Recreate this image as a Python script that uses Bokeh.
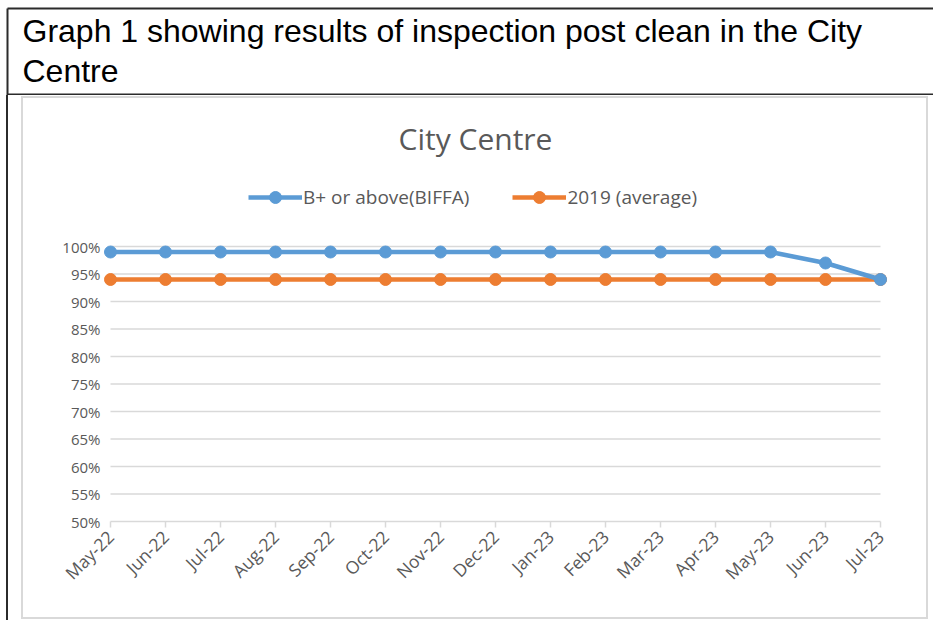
from bokeh.plotting import figure
from bokeh.layouts import column
from bokeh.models import (Range1d, FixedTicker, Legend, LegendItem, Label,
                          ColumnDataSource, InlineStyleSheet)
from bokeh.core.properties import value
from bokeh.embed import file_html
from bokeh.resources import INLINE
from math import pi

# ---- data ----
months = ["May-22", "Jun-22", "Jul-22", "Aug-22", "Sep-22", "Oct-22", "Nov-22",
          "Dec-22", "Jan-23", "Feb-23", "Mar-23", "Apr-23", "May-23", "Jun-23", "Jul-23"]
biffa = [0.99, 0.99, 0.99, 0.99, 0.99, 0.99, 0.99, 0.99, 0.99, 0.99, 0.99, 0.99, 0.99, 0.97, 0.94]
avg2019 = [0.94, 0.94, 0.94, 0.94, 0.94, 0.94, 0.94, 0.94, 0.94, 0.94, 0.94, 0.94, 0.94, 0.94, 0.94]
y_ticks = [0.50, 0.55, 0.60, 0.65, 0.70, 0.75, 0.80, 0.85, 0.90, 0.95, 1.00]
y_tick_labels = ["50%", "55%", "60%", "65%", "70%", "75%", "80%", "85%", "90%", "95%", "100%"]
series_names = ["B+ or above(BIFFA)", "2019 (average)"]
chart_title = "City Centre"
header_lines = ["Graph 1 showing results of inspection post clean in the City", "Centre"]

BLUE = "#5B9BD5"
ORANGE = "#ED7D31"
GRID = "#D9D9D9"
TXT = "#595959"
DARK = "#2B2B2B"
FONT = "Open Sans"

PAGE_W, PAGE_H = 933, 620
HEAD_H = 95                       # header part (page y 0..95)
CH_H = PAGE_H - HEAD_H            # chart part (page y 95..620)

# ---------------- header figure (frame = whole area, y downwards) ----------------
h = figure(width=PAGE_W, height=HEAD_H, output_backend="svg", toolbar_location=None,
           x_range=Range1d(0, PAGE_W), y_range=Range1d(HEAD_H, 0),
           x_axis_type=None, y_axis_type=None, min_border=0)
h.outline_line_color = None
h.grid.visible = False
h.border_fill_color = "white"

h.text(x=[22, 22], y=[30, 70], text=header_lines, text_baseline="middle", text_align="left",
       text_font=value("Liberation Sans"), text_font_size="32px", text_color="black")
# table borders (black)
h.segment(x0=[7, 7, 7], x1=[PAGE_W, PAGE_W, 7], y0=[8, 94, 8], y1=[8, 94, HEAD_H],
          line_color=DARK, line_width=2)

# ---------------- chart figure ----------------
# frame spans from the top of this part down to the 50% axis line
ML, MR, MT, MB = 102, 45, 0, 99
FW, FH = PAGE_W - ML - MR, CH_H - MT - MB
PX_PER_X = 55.0
PX_PER_Y = 550.0
xs = list(range(len(months)))
pad = (FW / PX_PER_X - (len(months) - 1)) / 2.0
src = ColumnDataSource(dict(x=xs, b=biffa, o=avg2019))

css = InlineStyleSheet(css="""
:host { position: relative; }
:host::before { content: ""; position: absolute; z-index: 20; pointer-events: none;
  left: 6px; top: 0px; width: 2px; height: %dpx; background: %s; }
:host::after { content: ""; position: absolute; z-index: 20; pointer-events: none; box-sizing: border-box;
  left: 21px; top: 1px; width: 907px; height: 523px; border: 2px solid %s; }
""" % (CH_H, DARK, GRID))

x_lo = -pad
y_lo = 0.5
p = figure(width=PAGE_W, height=CH_H, output_backend="svg", toolbar_location=None,
           x_range=Range1d(x_lo, len(months) - 1 + pad),
           y_range=Range1d(y_lo, y_lo + FH / PX_PER_Y),
           min_border_left=ML, min_border_right=MR, min_border_top=MT, min_border_bottom=MB,
           stylesheets=[css])
p.outline_line_color = None
p.border_fill_color = "white"
p.xgrid.visible = False
p.ygrid.visible = False

# keep the two figures from aligning their frames
for fig in (h, p):
    try:
        fig.frame_align = False
    except Exception:
        pass


def dx(page_x):   # page pixel x -> data x
    return x_lo + (page_x - ML) / PX_PER_X


def dy(page_y):   # page pixel y -> data y
    return y_lo + (HEAD_H + MT + FH - page_y) / PX_PER_Y


# horizontal gridlines at the tick values, spanning first..last month
grid_y = y_ticks[1:]
p.segment(x0=[xs[0]] * len(grid_y), x1=[xs[-1]] * len(grid_y), y0=grid_y, y1=grid_y,
          line_color=GRID, line_width=1.5)

# y axis
p.yaxis.ticker = FixedTicker(ticks=y_ticks)
p.yaxis.major_label_overrides = {t: l for t, l in zip(y_ticks, y_tick_labels)}
p.yaxis.axis_line_color = None
p.yaxis.major_tick_line_color = None
p.yaxis.minor_tick_line_color = None
p.yaxis.major_tick_out = 0
p.yaxis.major_tick_in = 0
p.yaxis.major_label_standoff = 2
p.yaxis.major_label_text_font = FONT
p.yaxis.major_label_text_font_size = "15px"
p.yaxis.major_label_text_color = TXT

# x axis
p.xaxis.ticker = FixedTicker(ticks=xs)
p.xaxis.major_label_overrides = {i: m for i, m in zip(xs, months)}
p.xaxis.bounds = (xs[0], xs[-1])
p.xaxis.axis_line_color = GRID
p.xaxis.axis_line_width = 1.5
p.xaxis.major_tick_line_color = GRID
p.xaxis.major_tick_line_width = 1.5
p.xaxis.major_tick_out = 6
p.xaxis.major_tick_in = 0
p.xaxis.minor_tick_line_color = None
p.xaxis.major_label_orientation = pi / 4
p.xaxis.major_label_standoff = 6
p.xaxis.major_label_text_font = FONT
p.xaxis.major_label_text_font_size = "17.5px"
p.xaxis.major_label_text_color = TXT

# series
l_o = p.line("x", "o", source=src, line_color=ORANGE, line_width=4.5)
s_o = p.scatter("x", "o", source=src, size=12, fill_color=ORANGE, line_color=ORANGE)
l_b = p.line("x", "b", source=src, line_color=BLUE, line_width=4.5)
s_b = p.scatter("x", "b", source=src, size=12, fill_color=BLUE, line_color=BLUE)

# chart title
p.add_layout(Label(x=dx(475), y=dy(138), text=chart_title, text_align="center",
                   text_baseline="middle", text_font=FONT, text_font_size="30px",
                   text_color=TXT))

# legend (bottom-left corner given relative to the frame's bottom-left, y upwards)
LEG_H = 30
legend = Legend(items=[LegendItem(label=series_names[0], renderers=[l_b, s_b]),
                       LegendItem(label=series_names[1], renderers=[l_o, s_o])],
                orientation="horizontal",
                location=(248 - ML, HEAD_H + MT + FH - (197 + LEG_H // 2)),
                glyph_width=54, glyph_height=LEG_H, label_height=LEG_H, label_standoff=1,
                spacing=43, padding=0, margin=0, border_line_color=None,
                background_fill_alpha=0, label_text_font=FONT, label_text_font_size="19px",
                label_text_color=TXT)
p.add_layout(legend, "center")

layout = column(h, p, spacing=0)
open("out.html", "w").write(file_html(layout, INLINE))
